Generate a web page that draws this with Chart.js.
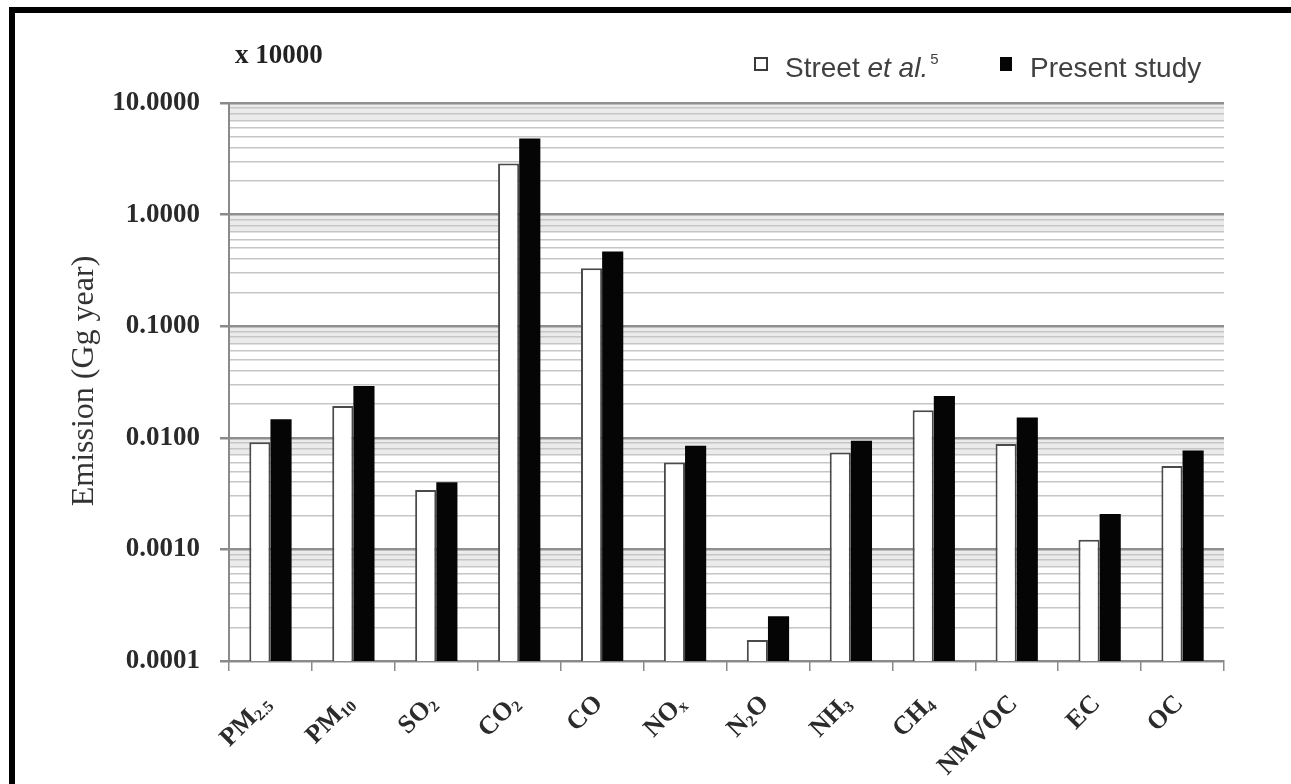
<!DOCTYPE html>
<html>
<head>
<meta charset="utf-8">
<script src="https://cdn.jsdelivr.net/npm/chart.js@4.4.1/dist/chart.umd.min.js"></script>
<style>
  html, body { margin: 0; padding: 0; background: #fff; }
  #wrap { position: relative; width: 1291px; height: 784px; overflow: hidden; }
  #c { position: absolute; left: 0; top: 0; }
  #frame { position: absolute; left: 9px; top: 7px; right: -20px; bottom: -20px;
           border-left: 6px solid #000; border-top: 6px solid #000; pointer-events: none; }
</style>
</head>
<body>
<div id="wrap">
  <canvas id="c" width="1291" height="784"></canvas>
  <div id="frame"></div>
</div>
<script>
// Pollutant categories (subscripts written as Unicode subscript characters)
const categories = ['PM₂.₅', 'PM₁₀', 'SO₂', 'CO₂', 'CO', 'NOₓ', 'N₂O', 'NH₃', 'CH₄', 'NMVOC', 'EC', 'OC'];

// Emissions, in units of 10000 Gg per year
const streetValues  = [0.0091, 0.0193, 0.0034, 2.87, 0.331, 0.0060, 0.000154, 0.0074, 0.0177, 0.0088, 0.00122, 0.0056];
const presentValues = [0.0147, 0.0291, 0.0040, 4.80, 0.467, 0.0085, 0.000252, 0.0094, 0.0237, 0.0152, 0.00208, 0.0077];

// Labelled decades on the log axis
const yMajorTicks = [0.0001, 0.001, 0.01, 0.1, 1, 10];

const yAxisTitle = 'Emission (Gg year)';
const unitNote = 'x 10000';
const legendStreet = { name: 'Street ', italic: 'et al.', sup: '5' };
const legendPresent = 'Present study';

// Minor grid positions 1..9 within each decade
const yGridValues = [];
for (let d = 0; d < yMajorTicks.length - 1; d++) {
  for (let m = 1; m <= 9; m++) yGridValues.push(Number((m * yMajorTicks[d]).toPrecision(3)));
}
yGridValues.push(yMajorTicks[yMajorTicks.length - 1]);

const isMajor = v => yMajorTicks.some(t => Math.abs(t - v) / t < 1e-6);

const SERIF = '"Liberation Serif", "Times New Roman", serif';
const SANS = '"Liberation Sans", Arial, sans-serif';

// Light shading just under each decade line
const bandPlugin = {
  id: 'bands',
  beforeDraw(chart) {
    const { ctx, chartArea } = chart;
    const y = chart.scales.y;
    ctx.save();
    ctx.fillStyle = '#ebebeb';
    yMajorTicks.slice(1).forEach(t => {
      const y0 = y.getPixelForValue(t);
      const y1 = y.getPixelForValue(t * 0.7);
      ctx.fillRect(chartArea.left, y0, chartArea.right - chartArea.left, y1 - y0);
    });
    ctx.restore();
  }
};

const subMap = { '₀': '0', '₁': '1', '₂': '2', '₃': '3', '₄': '4', '₅': '5', 'ₓ': 'x' };

function splitLabel(label) {
  const chars = [...label];
  const segs = [];
  chars.forEach((ch, i) => {
    let sub = ch in subMap;
    if (ch === '.' && i + 1 < chars.length && chars[i + 1] in subMap) sub = true;
    const text = sub && subMap[ch] ? subMap[ch] : ch;
    const last = segs[segs.length - 1];
    if (last && last.sub === sub) last.text += text; else segs.push({ text, sub });
  });
  return segs;
}

// Annotations: category labels, axis title, unit note and legend
const textPlugin = {
  id: 'texts',
  afterDraw(chart) {
    const { ctx } = chart;
    const x = chart.scales.x;
    const axisY = chart.chartArea.bottom;

    // rotated category labels with subscripts
    const mainFont = 'bold 26px ' + SERIF;
    const subFont = 'bold 16px ' + SERIF;
    ctx.save();
    ctx.fillStyle = '#2b2b2b';
    ctx.textBaseline = 'middle';
    ctx.textAlign = 'left';
    categories.forEach((label, i) => {
      const px = x.getPixelForTick(i);
      const segs = splitLabel(label);
      let total = 0;
      segs.forEach(s => { ctx.font = s.sub ? subFont : mainFont; s.w = ctx.measureText(s.text).width; total += s.w; });
      ctx.save();
      ctx.translate(px - 3, axisY + 39);
      ctx.rotate(-Math.PI / 4);
      let cx = -total;
      segs.forEach(s => {
        ctx.font = s.sub ? subFont : mainFont;
        ctx.fillText(s.text, cx, s.sub ? 6 : 0);
        cx += s.w;
      });
      ctx.restore();
    });
    ctx.restore();

    // vertical axis title
    ctx.save();
    ctx.fillStyle = '#333';
    ctx.font = '32px ' + SERIF;
    ctx.textAlign = 'center';
    ctx.textBaseline = 'middle';
    ctx.translate(85, 381);
    ctx.rotate(-Math.PI / 2);
    ctx.fillText(yAxisTitle, 0, 0);
    ctx.restore();

    // unit multiplier above the axis
    ctx.save();
    ctx.fillStyle = '#222';
    ctx.font = 'bold 27px ' + SERIF;
    ctx.textBaseline = 'alphabetic';
    ctx.fillText(unitNote, 235, 63);
    ctx.restore();

    // legend
    ctx.save();
    ctx.textBaseline = 'alphabetic';
    ctx.fillStyle = '#fff';
    ctx.strokeStyle = '#3a3a3a';
    ctx.lineWidth = 2;
    ctx.fillRect(755, 58, 12, 12);
    ctx.strokeRect(755, 58, 12, 12);
    ctx.fillStyle = '#404040';
    let lx = 785;
    ctx.font = '28px ' + SANS;
    ctx.fillText(legendStreet.name, lx, 77);
    lx += ctx.measureText(legendStreet.name).width;
    ctx.font = 'italic 28px ' + SANS;
    ctx.fillText(legendStreet.italic, lx, 77);
    lx += ctx.measureText(legendStreet.italic).width + 2;
    ctx.font = '15px ' + SANS;
    ctx.fillText(legendStreet.sup, lx, 64);

    ctx.fillStyle = '#050505';
    ctx.fillRect(1000, 57, 12, 14);
    ctx.fillStyle = '#404040';
    ctx.font = '28px ' + SANS;
    ctx.fillText(legendPresent, 1030, 77);
    ctx.restore();
  }
};

new Chart(document.getElementById('c'), {
  type: 'bar',
  data: {
    labels: categories,
    datasets: [
      {
        label: legendStreet.name + legendStreet.italic,
        data: streetValues,
        backgroundColor: '#ffffff',
        borderColor: '#4a4a4a',
        borderWidth: 2,
        borderSkipped: 'start',
        categoryPercentage: 0.51,
        barPercentage: 1.0
      },
      {
        label: legendPresent,
        data: presentValues,
        backgroundColor: '#050505',
        borderWidth: 0,
        categoryPercentage: 0.51,
        barPercentage: 1.0
      }
    ]
  },
  options: {
    responsive: false,
    animation: false,
    devicePixelRatio: 1,
    layout: { padding: { top: 103, left: 20, right: 67, bottom: 0 } },
    plugins: { legend: { display: false }, tooltip: { enabled: false }, title: { display: false } },
    scales: {
      x: {
        type: 'category',
        offset: true,
        grid: {
          display: true, offset: true, drawOnChartArea: false, drawTicks: true,
          tickLength: 10, color: '#8a8a8a', lineWidth: 1.5
        },
        border: { display: true, color: '#8a8a8a', width: 2 },
        ticks: { display: false },
        afterFit(s) { s.height = 123; s.paddingLeft = 0; s.paddingRight = 0; }
      },
      y: {
        type: 'logarithmic',
        min: yMajorTicks[0],
        max: yMajorTicks[yMajorTicks.length - 1],
        afterBuildTicks(s) { s.ticks = yGridValues.map(v => ({ value: v, major: isMajor(v) })); },
        grid: {
          drawTicks: true,
          tickLength: 9,
          color: ctx => (ctx.tick && isMajor(ctx.tick.value)) ? '#8f8f8f' : '#c6c6c6',
          lineWidth: ctx => (ctx.tick && isMajor(ctx.tick.value)) ? 2.5 : 1.5,
          tickColor: ctx => (ctx.tick && isMajor(ctx.tick.value)) ? '#8a8a8a' : 'rgba(0,0,0,0)'
        },
        border: { display: true, color: '#8a8a8a', width: 2 },
        ticks: {
          autoSkip: false,
          padding: 20,
          color: '#2a2a2a',
          font: { family: SERIF, size: 27, weight: 'bold' },
          callback: v => isMajor(v) ? Number(v).toFixed(4) : ''
        },
        afterFit(s) { s.width = 209; s.paddingTop = 0; s.paddingBottom = 0; }
      }
    }
  },
  plugins: [bandPlugin, textPlugin]
});
</script>
</body>
</html>
